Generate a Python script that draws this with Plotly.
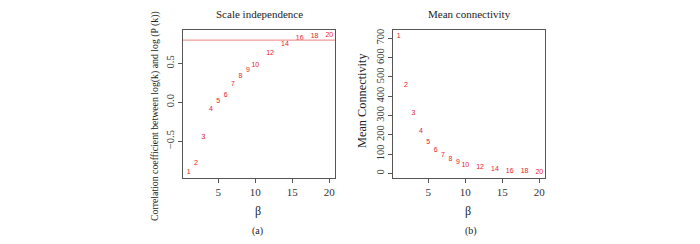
import plotly.graph_objects as go

powers = [1, 2, 3, 4, 5, 6, 7, 8, 9, 10, 12, 14, 16, 18, 20]
power_labels = [str(p) for p in powers]
scale_fit = [-0.90, -0.785, -0.448, -0.085, 0.018, 0.096, 0.238, 0.337, 0.415, 0.48,
             0.627, 0.751, 0.829, 0.847, 0.868]
mean_conn = [710, 459, 311, 220, 162, 122, 94, 72, 57, 44, 33, 21, 13, 12, 8]
cutoff = 0.80
left_yticks = [-0.5, 0.0, 0.5]
left_yticklabels = ["\u22120.5", "0.0", "0.5"]
right_yticks = [0, 100, 200, 300, 400, 500, 600, 700]
xticks = [5, 10, 15, 20]

W, H = 700, 244
OFF = 8  # page body margin offset
serif = "Liberation Serif"
sans = "Liberation Sans"
red = "#e8202a"
axc = "#555555"

def px_x(p):
    return (p - OFF) / W

def px_y(p):
    return 1 - (p - OFF) / H

fig = go.Figure()
fig.add_trace(go.Scatter(x=powers, y=scale_fit, text=power_labels, mode="text",
                         textfont=dict(color=red, size=7, family=sans),
                         xaxis="x", yaxis="y", showlegend=False))
fig.add_trace(go.Scatter(x=powers, y=mean_conn, text=power_labels, mode="text",
                         textfont=dict(color=red, size=7, family=sans),
                         xaxis="x2", yaxis="y2", showlegend=False))

fig.add_shape(type="line", xref="x domain", yref="y", x0=0, x1=1, y0=cutoff, y1=cutoff,
              line=dict(color="#f29b9b", width=1.2))

ydom = [px_y(178), px_y(30)]
common_x = dict(tickvals=xticks, ticks="outside", ticklen=4, tickcolor=axc,
                showline=True, linecolor=axc, linewidth=1, mirror=True,
                showgrid=False, zeroline=False,
                tickfont=dict(family=serif, size=11, color="#333333"))
common_y = dict(ticks="outside", ticklen=4, tickcolor=axc, tickangle=-90,
                showline=True, linecolor=axc, linewidth=1, mirror=True,
                showgrid=False, zeroline=False,
                tickfont=dict(family=serif, size=10.5, color="#333333"))

fig.update_layout(
    width=W, height=H,
    margin=dict(l=0, r=0, t=0, b=0),
    paper_bgcolor="white", plot_bgcolor="white",
    xaxis=dict(domain=[px_x(183), px_x(335)], range=[0.24, 20.76], anchor="y", **common_x),
    yaxis=dict(domain=ydom, range=[-0.975, 0.93], anchor="x",
               tickvals=left_yticks, ticktext=left_yticklabels, **common_y),
    xaxis2=dict(domain=[px_x(393), px_x(545)], range=[0.24, 20.76], anchor="y2", **common_x),
    yaxis2=dict(domain=ydom, range=[-24, 743], anchor="x2",
                tickvals=right_yticks, **common_y),
)

ann = [
    ("Scale independence", 259, 14, 11, 0),
    ("Mean connectivity", 469, 14, 11, 0),
    ("\u03b2", 258, 211, 12, 0),
    ("\u03b2", 468, 211, 12, 0),
    ("(a)", 257, 231, 10, 0),
    ("(b)", 471, 231, 10, 0),
    ("Correlation coefficient between log(k) and log (P (k))", 155, 116, 9.8, -90),
    ("Mean Connectivity", 362, 100, 12.3, -90),
]
for text, x, y, size, ang in ann:
    fig.add_annotation(text=text, x=px_x(x), y=px_y(y), xref="paper", yref="paper",
                       showarrow=False, textangle=ang, xanchor="center", yanchor="middle",
                       font=dict(family=serif, size=size, color="#222222"))

fig.write_html("out.html")
